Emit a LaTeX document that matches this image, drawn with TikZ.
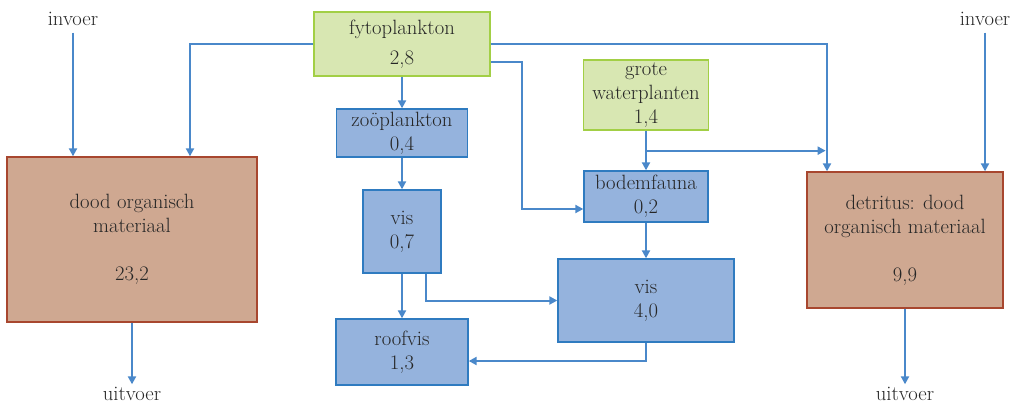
\documentclass[tikz,border=0pt]{standalone}
\usepackage{tikz}
\usepackage{xcolor}
\usetikzlibrary{arrows.meta, positioning, calc}
\definecolor{Flow_Blue}{HTML}{4A88CA}
\definecolor{Plant_Fill}{HTML}{D8E7B2}
\definecolor{Plant_Line}{HTML}{A2CF45}
\definecolor{Animal_Fill}{HTML}{95B3DD}
\definecolor{Animal_Line}{HTML}{2F7BC0}
\definecolor{Dead_Fill}{HTML}{CFA891}
\definecolor{Dead_Line}{HTML}{A8472F}
\definecolor{Text_Gray}{HTML}{262626}

\begin{document}
\begin{tikzpicture}[x=0.75pt, y=-0.75pt,
    box/.style={draw, line width=1pt, align=center, inner sep=0pt, text=Text_Gray,
        font=\fontsize{15.5}{18}\selectfont},
    plantbox/.style={box, fill=Plant_Fill, draw=Plant_Line},
    animalbox/.style={box, fill=Animal_Fill, draw=Animal_Line},
    deadbox/.style={box, fill=Dead_Fill, draw=Dead_Line},
    endtext/.style={text=Text_Gray, inner sep=2pt, font=\fontsize{15.5}{18}\selectfont},
    flow/.style={draw=Flow_Blue, line width=1.5pt, -{Triangle[length=6pt, width=6pt]}}]

    % Fix the page size
    \useasboundingbox (0,0) rectangle (1019,406);

    % Producers
    \node[plantbox, minimum width=132pt, minimum height=48pt] (fyto) at (402,44) {fytoplankton\\[4.5pt]2,8};
    \node[plantbox, minimum width=93.75pt, minimum height=52.5pt] (grote) at (646,95) {grote\\waterplanten\\1,4};

    % Consumers
    \node[animalbox, minimum width=98.25pt, minimum height=36pt] (zoo) at (402,133) {zoöplankton\\0,4};
    \node[animalbox, minimum width=58.5pt, minimum height=62.25pt] (vis1) at (402,231.5) {vis\\0,7};
    \node[animalbox, minimum width=99pt, minimum height=49.5pt] (roof) at (402,352) {roofvis\\1,3};
    \node[animalbox, minimum width=93pt, minimum height=38.25pt] (bodem) at (646,196.5) {bodemfauna\\0,2};
    \node[animalbox, minimum width=132pt, minimum height=62.25pt] (vis2) at (646,300.5) {vis\\4,0};

    % Dead material
    \node[deadbox, minimum width=187.5pt, minimum height=123.75pt] (dood) at (132,239.5) {dood organisch\\materiaal\\[18pt]23,2};
    \node[deadbox, minimum width=147pt, minimum height=102pt] (detr) at (905,240) {detritus: dood\\organisch materiaal\\[18pt]9,9};

    % Inputs and outputs
    \node[endtext] (in1) at (73,19) {invoer};
    \node[endtext] (in2) at (985,19) {invoer};
    \node[endtext] (out1) at (132,394) {uitvoer};
    \node[endtext] (out2) at (905,394) {uitvoer};

    % Helper points
    \coordinate (detrin) at ($(detr.north)+(-78,0)$);
    \coordinate (split) at ($(grote.south)+(0,20)$);

    % Flows from fytoplankton
    \draw[flow] (fyto.west) -| ($(dood.north)+(58,0)$);
    \draw[flow] (fyto.east) -| (detrin);
    \draw[flow] ($(fyto.east)+(0,18)$) -| ($(bodem.west)+(-61,12.5)$) -- ($(bodem.west)+(0,12.5)$);
    \draw[flow] (fyto.south) -- (zoo.north);

    % Food chain
    \draw[flow] (zoo.south) -- (vis1.north);
    \draw[flow] (vis1.south) -- (roof.north);
    \draw[flow] ($(vis1.south)+(24,0)$) |- (vis2.west);
    \draw[flow] (grote.south) -- (bodem.north);
    \draw[flow, shorten >=1pt] (split) -- (split -| detrin);
    \draw[flow] (bodem.south) -- (vis2.north);
    \draw[flow] (vis2.south) |- ($(roof.east)+(0,9)$);

    % Inputs and outputs
    \draw[flow, shorten <=3pt] (in1.south) -- (in1.south |- dood.north);
    \draw[flow, shorten <=3pt] (in2.south) -- (in2.south |- detr.north);
    \draw[flow] (dood.south) -- (out1.north);
    \draw[flow] (detr.south) -- (out2.north);
\end{tikzpicture}
\end{document}
